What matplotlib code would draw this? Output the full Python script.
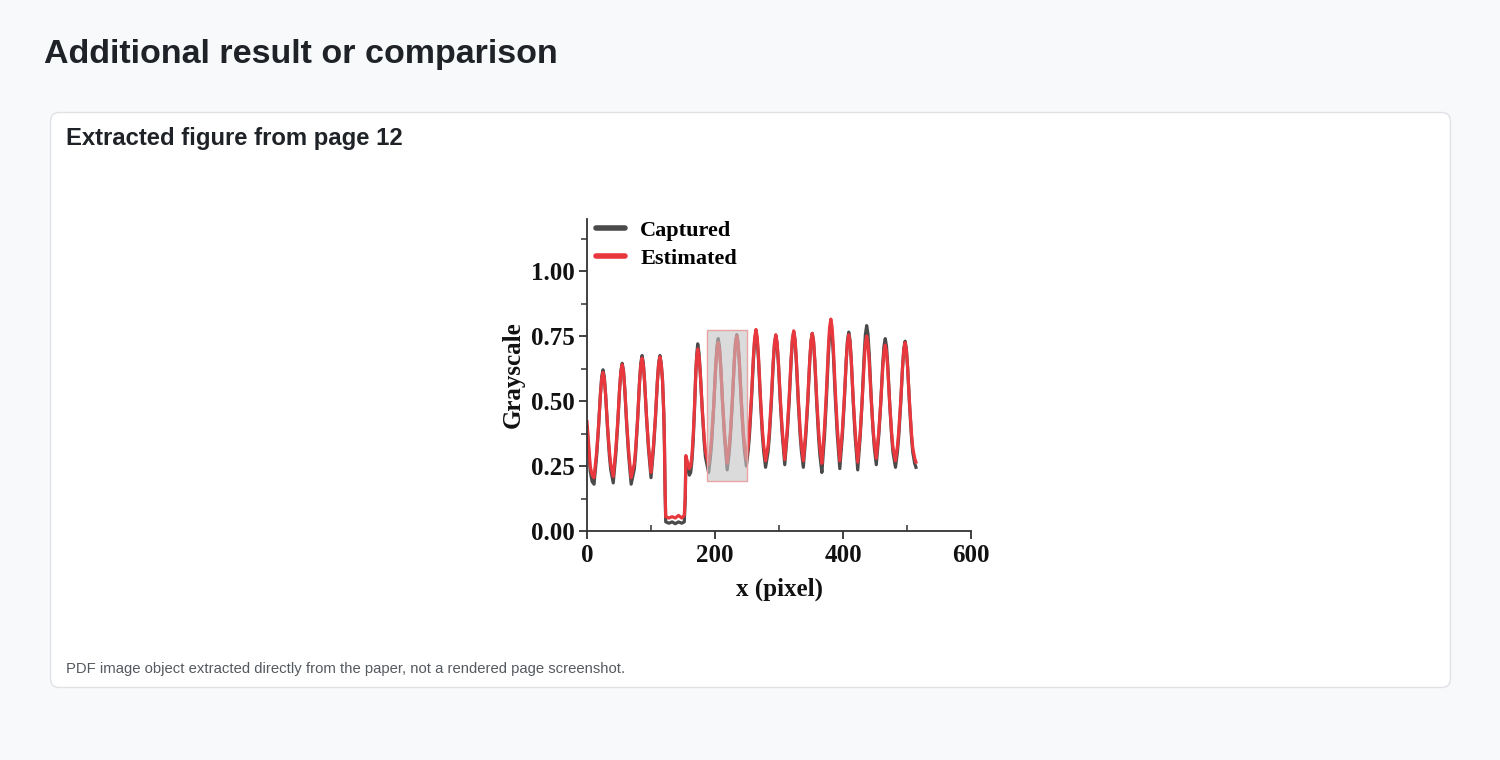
import matplotlib
matplotlib.use("Agg")
import matplotlib.pyplot as plt
from matplotlib.patches import FancyBboxPatch, Rectangle
from matplotlib.ticker import MultipleLocator

# ---------------- data ----------------
x_px = [0, 2, 5, 8, 11, 13, 15, 18, 21, 23, 25, 27, 29, 32, 35, 37, 41,
        43, 45, 48, 51, 53, 55, 57, 59, 62, 65, 67, 69,
        74, 76, 79, 82, 84, 86, 88, 90, 93, 96, 98, 100,
        102, 104, 107, 110, 112, 114, 116, 118, 120, 121, 122, 123,
        128, 133, 138, 143, 148, 152, 153.5, 154.5,
        157, 160, 162, 164, 166, 168, 170, 171.5, 173, 175, 177, 180, 183, 185, 190,
        193, 195, 198, 201, 203, 205, 207, 209, 212, 215, 217, 219,
        222, 224, 227, 230, 232, 234, 236, 238, 241, 244, 246, 249,
        252, 254, 257, 260, 262, 264, 266, 268, 271, 274, 276, 279,
        283, 285, 288, 291, 293, 295, 297, 299, 302, 305, 307, 309,
        311, 313, 316, 319, 321, 323, 325, 327, 330, 333, 335, 338,
        340, 342, 345, 348, 350, 352, 354, 356, 359, 362, 364, 367,
        369, 371, 374, 377, 379, 381, 383, 385, 388, 391, 393, 395,
        397, 399, 402, 405, 407, 409, 411, 413, 416, 419, 421, 423,
        425, 427, 430, 433, 435, 437, 439, 441, 444, 447, 449, 452,
        454, 456, 459, 462, 464, 466, 468, 470, 473, 476, 478, 482,
        485, 487, 490, 493, 495, 497, 499, 501, 504, 507, 509, 512, 514]

captured = [.40, .33, .23, .19, .18, .233, .286, .396, .528, .594, .62, .594, .529, .398, .289, .237, .185,
            .24, .295, .41, .548, .617, .645, .617, .547, .408, .292, .236, .18,
            .239, .299, .423, .571, .645, .675, .647, .576, .435, .318, .261, .205,
            .261, .318, .435, .576, .647, .675, .645, .58, .45, .33, .15, .035,
            .03, .035, .028, .035, .03, .035, .12, .285,
            .25, .215, .225, .27, .35, .47, .61, .68, .72, .685, .61, .468, .344, .285, .225,
            .287, .349, .477, .632, .709, .74, .71, .634, .482, .356, .296, .235,
            .297, .36, .49, .646, .724, .755, .725, .649, .497, .371, .311, .25,
            .312, .374, .502, .657, .734, .765, .734, .656, .50, .37, .307, .245,
            .306, .366, .492, .644, .72, .75, .72, .646, .498, .374, .314, .255,
            .316, .377, .505, .658, .734, .765, .734, .656, .50, .37, .307, .245,
            .307, .369, .497, .652, .729, .76, .728, .648, .487, .353, .289, .225,
            .293, .361, .502, .671, .756, .79, .757, .675, .51, .372, .306, .24,
            .303, .366, .497, .655, .734, .765, .733, .654, .495, .362, .299, .235,
            .302, .368, .507, .673, .757, .79, .758, .678, .517, .383, .319, .255,
            .313, .371, .493, .638, .711, .74, .71, .636, .488, .364, .304, .245,
            .303, .361, .483, .628, .701, .73, .701, .628, .483, .361, .303, .26, .245]

estimated = [.42, .35, .25, .215, .205, .254, .302, .403, .525, .586, .61, .586, .526, .406, .306, .258, .21,
             .262, .313, .421, .55, .614, .64, .614, .549, .418, .309, .257, .205,
             .26, .315, .43, .568, .637, .665, .639, .573, .441, .331, .278, .225,
             .278, .332, .443, .577, .643, .67, .64, .58, .45, .34, .16, .055,
             .05, .055, .05, .06, .05, .06, .13, .29,
             .265, .24, .25, .29, .37, .48, .61, .67, .70, .673, .607, .473, .362, .308, .255,
             .311, .368, .485, .626, .697, .725, .697, .627, .488, .372, .316, .26,
             .319, .378, .50, .647, .721, .75, .722, .65, .508, .389, .332, .275,
             .335, .395, .52, .67, .745, .775, .745, .669, .517, .391, .331, .27,
             .328, .386, .508, .653, .726, .755, .726, .654, .51, .39, .333, .275,
             .334, .394, .518, .666, .74, .77, .74, .665, .515, .39, .33, .27,
             .329, .388, .51, .657, .731, .76, .73, .655, .505, .38, .32, .26,
             .327, .393, .532, .698, .782, .815, .782, .701, .537, .401, .335, .27,
             .328, .386, .508, .653, .726, .755, .726, .652, .505, .383, .324, .265,
             .323, .381, .503, .648, .721, .75, .722, .651, .51, .393, .336, .28,
             .332, .384, .493, .624, .689, .715, .688, .622, .488, .377, .323, .27,
             .325, .379, .493, .629, .698, .725, .697, .628, .49, .375, .32, .28, .265]

series_labels = ["Captured", "Estimated"]
box_x = [187.5, 250.0]
box_y = [0.192, 0.773]
x_ticks = [0, 200, 400, 600]
y_ticks = [0.00, 0.25, 0.50, 0.75, 1.00]

# ---------------- figure ----------------
W, H = 1500, 760
fig = plt.figure(figsize=(W / 100, H / 100), dpi=100)
fig.patch.set_facecolor("#f8f9fb")

# page layer in pixel coordinates
bg = fig.add_axes([0, 0, 1, 1])
bg.set_xlim(0, W)
bg.set_ylim(H, 0)
bg.axis("off")
bg.patch.set_alpha(0)
card = FancyBboxPatch((50.5, 112.5), 1400, 575, boxstyle="round,pad=0,rounding_size=9",
                      facecolor="white", edgecolor="#dfe1e5", linewidth=1.0)
bg.add_patch(card)
bg.text(44, 54, "Additional result or comparison", fontsize=24.5, fontweight="bold",
        family="Liberation Sans", color="#1f2328", va="center", ha="left")
bg.text(66, 139, "Extracted figure from page 12", fontsize=17.2, fontweight="bold",
        family="Liberation Sans", color="#1f2328", va="center", ha="left")
bg.text(66, 669, "PDF image object extracted directly from the paper, not a rendered page screenshot.",
        fontsize=10.75, family="Liberation Sans", color="#555a60", va="center", ha="left")

# chart
ax = fig.add_axes([587 / W, 229 / H, 384 / W, 312 / H])
ax.set_facecolor("white")
serif = {"family": "Liberation Serif", "weight": "bold"}

ax.plot(x_px, captured, color="#4a4a4a", lw=2.3, label=series_labels[0], zorder=2, solid_joinstyle="round")
ax.plot(x_px, estimated, color="#e8383d", lw=2.3, label=series_labels[1], zorder=2.1, solid_joinstyle="round")

ax.add_patch(Rectangle((box_x[0], box_y[0]), box_x[1] - box_x[0], box_y[1] - box_y[0],
                       facecolor="#c4c4c4", alpha=0.6, edgecolor="none", zorder=3))
ax.add_patch(Rectangle((box_x[0], box_y[0]), box_x[1] - box_x[0], box_y[1] - box_y[0],
                       facecolor="none", edgecolor="#e9a3a3", lw=1.0, zorder=3.1))

ax.set_xlim(0, 600)
ax.set_ylim(0, 1.2)
ax.set_xticks(x_ticks)
ax.set_yticks(y_ticks)
ax.set_yticklabels([f"{v:.2f}" for v in y_ticks])
ax.xaxis.set_minor_locator(MultipleLocator(100))
ax.yaxis.set_minor_locator(MultipleLocator(0.125))
for s in ["top", "right"]:
    ax.spines[s].set_visible(False)
for s in ["left", "bottom"]:
    ax.spines[s].set_color("#333333")
    ax.spines[s].set_linewidth(1.3)
ax.tick_params(which="major", direction="out", length=6, width=1.3, color="#333333", pad=3)
ax.tick_params(which="minor", direction="out", length=4, width=1.1, color="#333333")
ax.tick_params(axis="x", which="minor", direction="in", length=4)
for lab in ax.get_xticklabels() + ax.get_yticklabels():
    lab.set_fontfamily("Liberation Serif")
    lab.set_fontweight("bold")
    lab.set_fontsize(18)
    lab.set_color("#111111")

ax.set_xlabel("x (pixel)", fontsize=18, labelpad=8, color="#111111", **serif)
ax.set_ylabel("Grayscale", fontsize=18, labelpad=4, color="#111111", **serif)

leg = ax.legend(loc="upper left", bbox_to_anchor=(0.0, 1.025), frameon=False,
                prop={"family": "Liberation Serif", "weight": "bold", "size": 16},
                handlelength=1.3, handletextpad=0.7, labelspacing=0.36, borderaxespad=0.0)
for h in leg.legend_handles:
    h.set_linewidth(4)
    h.set_solid_capstyle("round")

fig.savefig("out.png", dpi=100, facecolor=fig.get_facecolor())
